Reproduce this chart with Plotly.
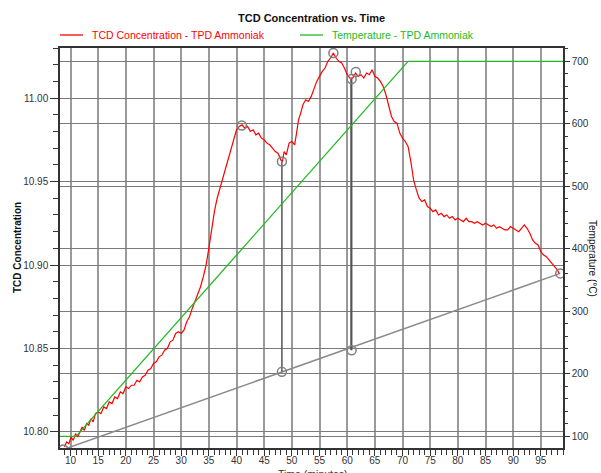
import plotly.graph_objects as go

# ---------------- data ----------------
time_tcd = [8.9, 9.3, 9.7, 10.1, 10.5, 10.9, 11.3, 11.7, 12.1, 12.5, 12.9, 13.3, 13.7, 14.1, 14.5,
            15.0, 15.5, 16.0, 16.5, 17.0, 17.5, 18.0, 18.5, 19.0, 19.5, 20.0, 20.5, 21.0, 21.5, 22.0,
            22.5, 23.0, 23.5, 24.0, 24.5, 25.0, 25.5, 26.0, 26.5, 27.0, 27.5, 28.0, 28.5, 29.0, 29.5,
            30.0, 30.5, 31.0, 31.5, 32.0, 32.5, 33.0, 33.5, 34.0, 34.5, 35.0, 35.5, 36.0, 36.5, 37.0,
            37.5, 38.0, 38.5, 39.0, 39.5, 40.0, 40.5, 41.0, 41.5, 42.0, 42.5, 43.0, 43.5, 44.0, 44.5,
            45.0, 45.5, 46.0, 46.5, 47.0, 47.5, 48.0, 48.3, 48.6, 49.0, 49.5, 50.0, 50.5, 50.8, 51.2,
            51.6, 52.0, 52.5, 53.0, 53.5, 54.0, 54.5, 55.0, 55.5, 56.0, 56.5, 57.0, 57.5, 58.0, 58.5,
            59.0, 59.5, 60.0, 60.5, 61.0, 61.5, 62.0, 62.5, 63.0, 63.5, 64.0, 64.5, 65.0, 65.5, 66.0,
            66.5, 67.0, 67.5, 68.0, 68.5, 69.0, 69.5, 70.0, 70.5, 71.0, 71.5, 72.0, 72.5, 73.0, 73.5,
            74.0, 74.5, 75.0, 75.5, 76.0, 76.5, 77.0, 77.5, 78.0, 78.5, 79.0, 79.5, 80.0, 80.5, 81.0,
            81.5, 82.0, 82.5, 83.0, 83.5, 84.0, 84.5, 85.0, 85.5, 86.0, 86.5, 87.0, 87.5, 88.0, 88.5,
            89.0, 89.5, 90.0, 90.5, 91.0, 91.5, 92.0, 92.5, 93.0, 93.5, 94.0, 94.5, 95.0, 95.5, 96.0,
            96.5, 97.0, 97.5, 98.0, 98.3]
tcd = [10.791, 10.794, 10.793, 10.797, 10.795, 10.799, 10.797, 10.800, 10.803, 10.801, 10.805, 10.804, 10.808, 10.806, 10.811,
       10.812, 10.811, 10.815, 10.814, 10.818, 10.817, 10.821, 10.820, 10.824, 10.823, 10.827, 10.826, 10.828, 10.828, 10.831,
       10.830, 10.833, 10.834, 10.837, 10.838, 10.841, 10.842, 10.845, 10.846, 10.849, 10.850, 10.854, 10.855, 10.859, 10.860,
       10.859, 10.861, 10.866, 10.869, 10.874, 10.878, 10.882, 10.887, 10.893, 10.900, 10.910, 10.922, 10.932, 10.940, 10.946,
       10.951, 10.957, 10.963, 10.969, 10.975, 10.981, 10.983, 10.984, 10.982, 10.983, 10.980, 10.981, 10.978, 10.979, 10.976,
       10.975, 10.973, 10.972, 10.970, 10.968, 10.967, 10.963, 10.962, 10.968, 10.966, 10.973, 10.974, 10.972, 10.978, 10.987,
       10.991, 10.996, 10.999, 10.998, 11.001, 11.006, 11.010, 11.013, 11.016, 11.018, 11.022, 11.024, 11.027, 11.024, 11.022,
       11.021, 11.018, 11.014, 11.012, 11.012, 11.015, 11.013, 11.014, 11.012, 11.015, 11.014, 11.017, 11.013, 11.012, 11.010,
       11.007, 11.002, 10.996, 10.989, 10.986, 10.985, 10.979, 10.976, 10.974, 10.971, 10.962, 10.951, 10.945, 10.940, 10.938,
       10.939, 10.935, 10.934, 10.932, 10.933, 10.930, 10.931, 10.929, 10.930, 10.928, 10.929, 10.927, 10.928, 10.927, 10.926,
       10.928, 10.926, 10.926, 10.925, 10.926, 10.925, 10.924, 10.925, 10.924, 10.923, 10.924, 10.922, 10.923, 10.922, 10.921,
       10.921, 10.923, 10.922, 10.921, 10.920, 10.922, 10.924, 10.922, 10.919, 10.915, 10.913, 10.912, 10.908, 10.906, 10.905,
       10.903, 10.901, 10.899, 10.897, 10.895]

time_temp = [8.1, 11.0, 71.0, 99.0]
temperature = [100, 100, 700, 700]

baseline_x = [8.7, 98.5]
baseline_y = [10.7895, 10.8950]

peak_x = [8.7, 40.95, 48.2, 48.2, 57.5, 60.8, 61.55, 60.8, 98.5]
peak_y = [10.7895, 10.9836, 10.962, 10.836, 11.027, 11.0114, 11.0156, 10.849, 10.8950]

drop1_x = [48.2, 48.2]
drop1_y = [10.962, 10.836]
drop2_x = [60.75, 60.75]
drop2_y = [11.0114, 10.849]

# ---------------- figure ----------------
fig = go.Figure()

GRAY = "#8a8a8a"
fig.add_trace(go.Scatter(x=baseline_x, y=baseline_y, mode="lines",
                         line=dict(color=GRAY, width=1.5), showlegend=False))
fig.add_trace(go.Scatter(x=drop1_x, y=drop1_y, mode="lines",
                         line=dict(color="#555555", width=1.5), showlegend=False))
fig.add_trace(go.Scatter(x=drop2_x, y=drop2_y, mode="lines",
                         line=dict(color="#555555", width=2.2), showlegend=False))
fig.add_trace(go.Scatter(x=time_tcd, y=tcd, mode="lines",
                         line=dict(color="#ff0000", width=1.2), showlegend=False))
fig.add_trace(go.Scatter(x=peak_x, y=peak_y, mode="markers",
                         marker=dict(symbol="circle-open", size=9, color="#808080",
                                     line=dict(width=1.5, color="#808080")),
                         showlegend=False))
fig.add_trace(go.Scatter(x=time_temp, y=temperature, mode="lines", xaxis="x2", yaxis="y2",
                         line=dict(color="#22bb22", width=1.3), showlegend=False))

tickfont = dict(family="Liberation Sans, Arial", size=10, color="#333333")
XRANGE = [8.1, 99.0]

fig.update_layout(
    width=601, height=473,
    margin=dict(l=60, r=38, t=48, b=25, autoexpand=False),
    paper_bgcolor="white", plot_bgcolor="white",
    xaxis=dict(range=XRANGE, tick0=10, dtick=5, showgrid=True, automargin=False,
               gridcolor="#9a9a9a", gridwidth=1.5, zeroline=False,
               showline=True, linecolor="#333333", linewidth=1.5, mirror=True,
               ticks="outside", ticklen=6, tickcolor="#333333", showticklabels=False,
               minor=dict(dtick=1, ticks="outside", ticklen=5, tickcolor="#333333", showgrid=False)),
    # label-only companion axis (keeps tick labels close to the axis line)
    xaxis2=dict(range=XRANGE, matches="x", overlaying="x", side="bottom", tick0=10, dtick=5,
                showgrid=False, zeroline=False, showline=False, automargin=False,
                ticks="outside", ticklen=3, tickcolor="rgba(0,0,0,0)",
                showticklabels=True, tickfont=tickfont),
    yaxis=dict(range=[10.7904, 11.030], tick0=10.8, dtick=0.05, tickformat=".2f", automargin=False,
               showgrid=True, gridcolor="#7a7a7a", gridwidth=1, zeroline=False,
               showline=True, linecolor="#333333", linewidth=1.5, mirror=False,
               ticks="outside", ticklen=8, tickcolor="#333333", tickfont=tickfont,
               minor=dict(dtick=0.01, ticks="outside", ticklen=5, tickcolor="#333333", showgrid=False)),
    yaxis2=dict(range=[81.3, 721.5], overlaying="y", side="right", tick0=100, dtick=100,
                automargin=False,
                showgrid=True, gridcolor="#7a7a7a", gridwidth=1, zeroline=False,
                showline=True, linecolor="#333333", linewidth=1.5,
                ticks="outside", ticklen=5, tickcolor="#333333", tickfont=tickfont,
                minor=dict(dtick=20, ticks="outside", ticklen=3, tickcolor="#333333", showgrid=False)),
)

# Title
fig.add_annotation(text="<b>TCD Concentration vs. Time</b>", xref="paper", yref="paper",
                   x=0.5, y=(448 - 18) / 400, xanchor="center", yanchor="middle", showarrow=False,
                   font=dict(family="Liberation Sans, Arial", size=11, color="#111111"))

# Legend (drawn manually)
leg_y = (448 - 35) / 400
fig.add_shape(type="line", xref="paper", yref="paper", x0=0.0, x1=(83 - 60) / 503,
              y0=leg_y, y1=leg_y, line=dict(color="#ff0000", width=1.3))
fig.add_annotation(text="TCD Concentration - TPD Ammoniak", xref="paper", yref="paper",
                   x=(90 - 60) / 503, y=leg_y, xanchor="left", yanchor="middle", showarrow=False,
                   font=dict(family="Liberation Sans, Arial", size=10.5, color="#ff0000"))
fig.add_shape(type="line", xref="paper", yref="paper", x0=(300 - 60) / 503, x1=(323 - 60) / 503,
              y0=leg_y, y1=leg_y, line=dict(color="#22bb22", width=1.3))
fig.add_annotation(text="Temperature - TPD Ammoniak", xref="paper", yref="paper",
                   x=(330 - 60) / 503, y=leg_y, xanchor="left", yanchor="middle", showarrow=False,
                   font=dict(family="Liberation Sans, Arial", size=10.5, color="#22bb22"))

# Axis titles
fig.add_annotation(text="<b>TCD Concentration</b>", xref="paper", yref="paper",
                   x=(17 - 60) / 503, y=0.5, xanchor="center", yanchor="middle", textangle=-90,
                   showarrow=False, font=dict(family="Liberation Sans, Arial", size=10, color="#111111"))
fig.add_annotation(text="Temperature (°C)", xref="paper", yref="paper",
                   x=(593 - 60) / 503, y=(448 - 258) / 400, xanchor="center", yanchor="middle",
                   textangle=90, showarrow=False,
                   font=dict(family="Liberation Sans, Arial", size=10, color="#111111"))
fig.add_annotation(text="Time (minutes)", xref="paper", yref="paper",
                   x=(313 - 60) / 503, y=(448 - 474) / 400, xanchor="center", yanchor="middle",
                   showarrow=False, font=dict(family="Liberation Sans, Arial", size=10.5, color="#333333"))

fig.write_html("out.html")
